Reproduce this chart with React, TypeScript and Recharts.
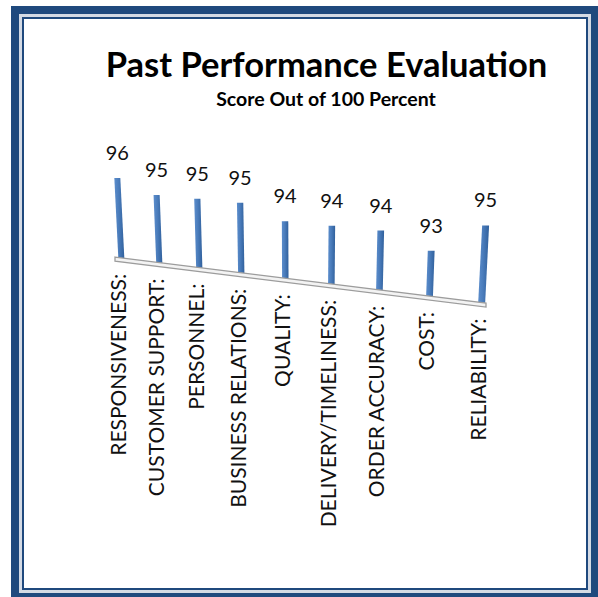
import { BarChart, Bar, XAxis, YAxis, LabelList, ReferenceLine } from "recharts";

const categories = [
  "RESPONSIVENESS:",
  "CUSTOMER SUPPORT:",
  "PERSONNEL:",
  "BUSINESS RELATIONS:",
  "QUALITY:",
  "DELIVERY/TIMELINESS:",
  "ORDER ACCURACY:",
  "COST:",
  "RELIABILITY:",
];
const scores = [96, 95, 95, 95, 94, 94, 94, 93, 95];
const scoreDomain = [90, 100];

const data = categories.map((name, i) => ({ name, score: scores[i] }));

const W = 598;
const H = 597;
const margin = { top: 125, right: 93, bottom: 309, left: 100 };
const AXIS_H = 30;
const PLOT_W = W - margin.left - margin.right;
const PLOT_BOTTOM = H - margin.bottom - AXIS_H;
const FIRST = margin.left + PLOT_W / (2 * categories.length);
const SPAN = (PLOT_W * (categories.length - 1)) / categories.length;

const FONT = "Lato, 'Open Sans', sans-serif";
const NAVY = "#1F497D";

// fake 3d: squeeze the near categories, tilt the floor, grow toward the viewer
const warpX = (cx: number) => {
  const s = (cx - FIRST) / SPAN;
  return cx - 0.18 * SPAN * s * (1 - s) - 1.5;
};
const floorY = (px: number) => PLOT_BOTTOM + 0.124 * (px - FIRST);
const depth = (px: number) => 1 + 0.16 * (px - FIRST) / SPAN;

function barGeom(x: number, width: number, height: number) {
  const cx = warpX(x + width / 2);
  const base = floorY(cx) + 2;
  const h = height * depth(cx) + 2;
  const w = width * depth(cx);
  const lean = (cx - 300) * 0.00028 * h;
  return { cx, base, h, w, lean };
}

function CylinderBar(props: any) {
  const { x, width, height, index } = props;
  const { cx, base, h, w, lean } = barGeom(x, width, height);
  const id = `cyl-${index}`;
  const pts = [
    [cx - w / 2, base],
    [cx + w / 2, base],
    [cx + w / 2 + lean, base - h],
    [cx - w / 2 + lean, base - h],
  ]
    .map((p) => p.join(","))
    .join(" ");
  return (
    <g>
      <defs>
        <linearGradient id={id} x1="0" y1="0" x2="1" y2="0">
          <stop offset="0%" stopColor="#5b8dcc" />
          <stop offset="45%" stopColor="#4a7cbb" />
          <stop offset="100%" stopColor="#30609c" />
        </linearGradient>
      </defs>
      <polygon points={pts} fill={`url(#${id})`} />
    </g>
  );
}

function ValueLabel(props: any) {
  const vb = props.viewBox ?? props;
  const { x, width, height } = vb;
  const { cx, base, h, lean } = barGeom(x, width, height);
  return (
    <text x={cx + lean} y={base - h - 18} textAnchor="middle" fontFamily={FONT} fontSize={20} fill="#111">
      {props.value}
    </text>
  );
}

function CategoryTick(props: any) {
  const { x, payload } = props;
  const cx = warpX(x);
  const top = floorY(cx) + 16;
  return (
    <text
      transform={`translate(${cx + 5}, ${top}) rotate(-90)`}
      textAnchor="end"
      fontFamily={FONT}
      fontSize={21}
      fill="#111"
    >
      {payload.value}
    </text>
  );
}

function Floor(props: any) {
  const { x1, x2 } = props;
  const band = (x2 - x1) / categories.length;
  const a = warpX(x1 + band / 2) - 6;
  const b = warpX(x2 - band / 2) + 5;
  const pts = [
    [a, floorY(a)],
    [b, floorY(b)],
    [b, floorY(b) + 4],
    [a, floorY(a) + 4],
  ]
    .map((p) => p.join(","))
    .join(" ");
  return <polygon points={pts} fill="#f3f3f3" stroke="#9c9c9c" strokeWidth={1.3} />;
}

export default function App() {
  return (
    <div style={{ position: "absolute", left: 0, top: 0, width: W, height: H, overflow: "hidden", background: "#fff" }}>
      <div
        style={{
          position: "absolute",
          left: 11,
          top: 6,
          width: 588,
          height: 595,
          boxSizing: "border-box",
          border: `8px solid ${NAVY}`,
          background: "#d4dae4",
        }}
      />
      <div
        style={{
          position: "absolute",
          left: 22,
          top: 17,
          width: 566,
          height: 573,
          boxSizing: "border-box",
          border: `2px solid ${NAVY}`,
          background: "#fff",
        }}
      />
      <svg width={W} height={H} style={{ position: "absolute", left: 0, top: 0 }}>
        <text x={326.5} y={77} textAnchor="middle" fontFamily={FONT} fontWeight="bold" fontSize={34.5} fill="#000">
          Past Performance Evaluation
        </text>
        <text x={326} y={106} textAnchor="middle" fontFamily={FONT} fontWeight="bold" fontSize={19.5} fill="#000">
          Score Out of 100 Percent
        </text>
      </svg>
      <div style={{ position: "absolute", left: 0, top: 0 }}>
        <BarChart width={W} height={H} data={data} margin={margin}>
          <XAxis
            dataKey="name"
            height={AXIS_H}
            interval={0}
            axisLine={false}
            tickLine={false}
            tick={<CategoryTick />}
          />
          <YAxis hide domain={scoreDomain} />
          <ReferenceLine y={scoreDomain[0]} shape={<Floor />} ifOverflow="visible" />
          <Bar dataKey="score" barSize={6} shape={<CylinderBar />} isAnimationActive={false}>
            <LabelList dataKey="score" content={<ValueLabel />} />
          </Bar>
        </BarChart>
      </div>
    </div>
  );
}
